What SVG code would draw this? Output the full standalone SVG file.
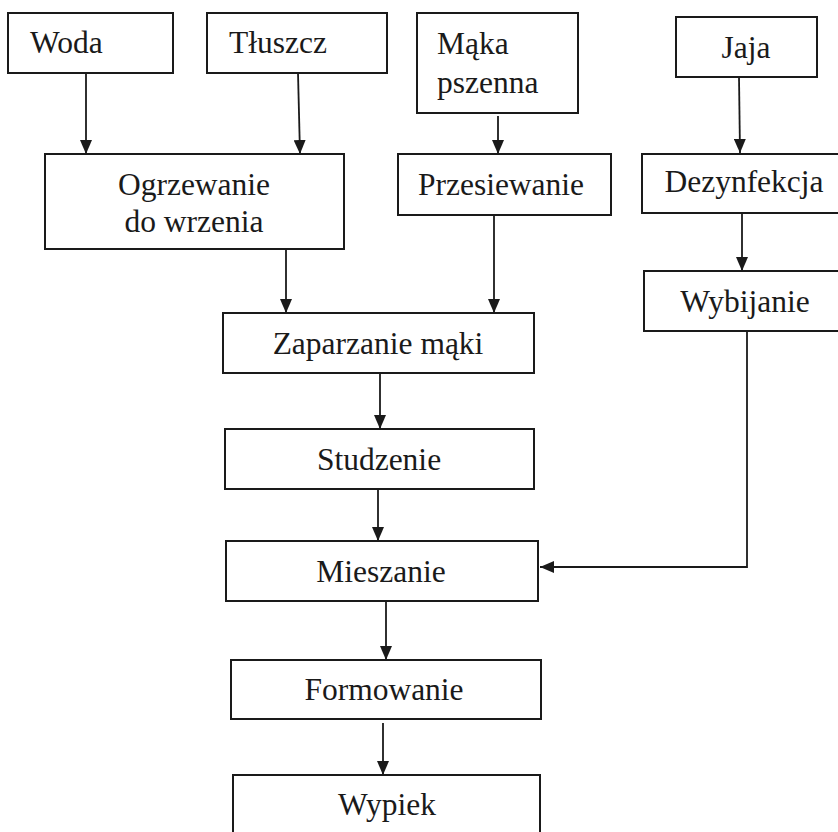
<svg xmlns="http://www.w3.org/2000/svg" width="838" height="832" viewBox="0 0 838 832">
<defs>
<style>
.box{fill:#fff;stroke:#1a1a1a;stroke-width:2}
.ln{fill:none;stroke:#1a1a1a;stroke-width:1.8}
text{font-family:"Liberation Serif",serif;font-size:31.5px;fill:#1a1a1a}
.c{text-anchor:middle}
</style>
<marker id="ah" viewBox="0 0 14 12" refX="14" refY="6" markerWidth="14" markerHeight="12" markerUnits="userSpaceOnUse" orient="auto">
<path d="M0,0 L14,6 L0,12 Z" fill="#1a1a1a"/>
</marker>
</defs>
<rect width="838" height="832" fill="#fff"/>
<g id="connectors">
<path class="ln" d="M86,73 V154" marker-end="url(#ah)"/>
<path class="ln" d="M298,73 L300,154" marker-end="url(#ah)"/>
<path class="ln" d="M498,116 V154" marker-end="url(#ah)"/>
<path class="ln" d="M739,77 L740,153" marker-end="url(#ah)"/>
<path class="ln" d="M286,249 V313" marker-end="url(#ah)"/>
<path class="ln" d="M494,215 V313" marker-end="url(#ah)"/>
<path class="ln" d="M742,213 V271" marker-end="url(#ah)"/>
<path class="ln" d="M380,373 V429" marker-end="url(#ah)"/>
<path class="ln" d="M378,489 V541" marker-end="url(#ah)"/>
<path class="ln" d="M747,331 V567 H540" marker-end="url(#ah)"/>
<path class="ln" d="M386,601 V660" marker-end="url(#ah)"/>
<path class="ln" d="M383,723 V775" marker-end="url(#ah)"/>
</g>
<g id="woda"><rect class="box" x="8" y="13" width="165" height="60"/><text x="30" y="53">Woda</text></g>
<g id="tluszcz"><rect class="box" x="207" y="13" width="180" height="60"/><text x="229" y="53">Tłuszcz</text></g>
<g id="maka"><rect class="box" x="417" y="13" width="161" height="100"/><text x="437" y="54">Mąka</text><text x="437" y="93">pszenna</text></g>
<g id="jaja"><rect class="box" x="676" y="17" width="141" height="60"/><text class="c" x="746" y="58">Jaja</text></g>
<g id="ogrzewanie"><rect class="box" x="45" y="154" width="299" height="95"/><text class="c" x="194" y="195">Ogrzewanie</text><text class="c" x="194" y="232">do wrzenia</text></g>
<g id="przesiewanie"><rect class="box" x="398" y="154" width="213" height="61"/><text class="c" x="501" y="195">Przesiewanie</text></g>
<g id="dezynfekcja"><rect class="box" x="642" y="154" width="210" height="59"/><text class="c" x="744" y="192">Dezynfekcja</text></g>
<g id="wybijanie"><rect class="box" x="644" y="271" width="208" height="60"/><text class="c" x="745" y="312">Wybijanie</text></g>
<g id="zaparzanie"><rect class="box" x="223" y="313" width="311" height="60"/><text class="c" x="378" y="354">Zaparzanie mąki</text></g>
<g id="studzenie"><rect class="box" x="225" y="429" width="309" height="60"/><text class="c" x="379" y="470">Studzenie</text></g>
<g id="mieszanie"><rect class="box" x="226" y="541" width="312" height="60"/><text class="c" x="381" y="582">Mieszanie</text></g>
<g id="formowanie"><rect class="box" x="231" y="660" width="310" height="59"/><text class="c" x="384" y="700">Formowanie</text></g>
<g id="wypiek"><rect class="box" x="233" y="775" width="307" height="70"/><text class="c" x="387" y="815">Wypiek</text></g>
</svg>
